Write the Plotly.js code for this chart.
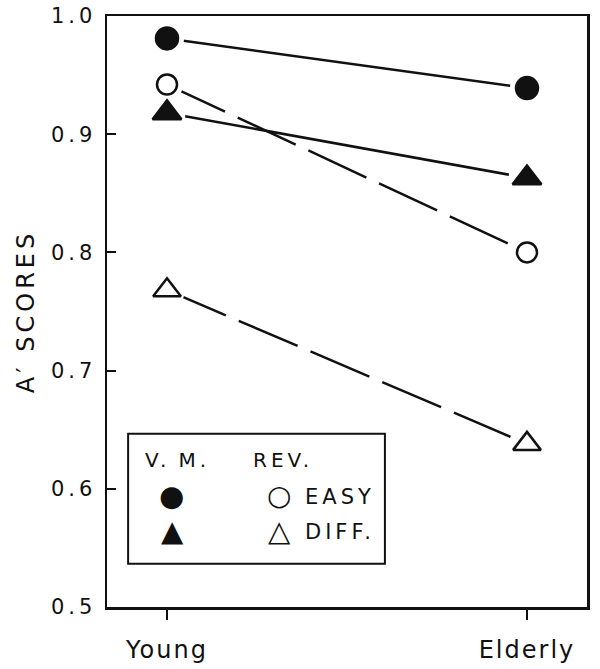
<!DOCTYPE html>
<html>
<head>
<meta charset="utf-8">
<script src="https://cdn.plot.ly/plotly-3.0.1.min.js"></script>
<style>
  html, body { margin: 0; padding: 0; background: #fff; }
  #chart { width: 600px; height: 669px; }
  /* the scanned figure uses widely spaced lettering */
  .xtick text { letter-spacing: 2px; }
  .ytick text { letter-spacing: 4px; }
  .g-ytitle text { letter-spacing: 4px; }
  .annotation-text { letter-spacing: 4px; }
</style>
</head>
<body>
<div id="chart"></div>
<script>
    // groups on the x axis
    const groups = ['Young', 'Elderly'];

    // A' scores
    const vmEasy = [0.981, 0.939];   // V.M. easy  (filled circle)
    const vmDiff = [0.918, 0.863];   // V.M. diff. (filled triangle)
    const revEasy = [0.942, 0.800];  // REV. easy  (open circle)
    const revDiff = [0.768, 0.638];  // REV. diff. (open triangle)

    const yTicks = [0.5, 0.6, 0.7, 0.8, 0.9, 1.0];

    const FONT = 'DejaVu Sans, Liberation Sans, sans-serif';
    const INK = '#111';

    // series definitions: solid = V.M., long dash = REV.
    const series = [
        { y: vmEasy, dash: 'solid', symbol: 'circle', size: 22, fill: INK },
        { y: vmDiff, dash: 'solid', symbol: 'triangle-up', size: 25, fill: INK },
        { y: revEasy, dash: '64px,14px', symbol: 'circle', size: 20, fill: '#fff' },
        { y: revDiff, dash: '64px,14px', symbol: 'triangle-up', size: 24, fill: '#fff' }
    ];

    const traces = [];

    // 1. connecting lines
    series.forEach(s => {
        traces.push({
            x: groups, y: s.y, type: 'scatter', mode: 'lines',
            line: { color: INK, width: 2.5, dash: s.dash },
            hoverinfo: 'skip', showlegend: false
        });
    });

    // 2. white halos so the lines stop short of the symbols
    series.forEach(s => {
        traces.push({
            x: groups, y: s.y, type: 'scatter', mode: 'markers',
            marker: { symbol: 'circle', size: s.size + 12, color: '#fff', line: { width: 0 } },
            hoverinfo: 'skip', showlegend: false
        });
    });

    // 3. the symbols
    series.forEach(s => {
        traces.push({
            x: groups, y: s.y, type: 'scatter', mode: 'markers',
            marker: { symbol: s.symbol, size: s.size, color: s.fill, line: { color: INK, width: 2.5 } },
            showlegend: false
        });
    });

    // legend box, drawn by hand like the original
    const legendText = (text, x, y, size, xanchor) => ({
        text: text, x: x, y: y, xref: 'paper', yref: 'paper',
        xanchor: xanchor || 'center', yanchor: 'middle', showarrow: false,
        font: { family: FONT, size: size, color: INK }
    });

    const annotations = [
        legendText('V.\u2009M.', 0.146, 0.249, 20),
        legendText('REV.', 0.300, 0.249, 20, 'left'),
        legendText('●', 0.138, 0.188, 29),
        legendText('▲', 0.140, 0.128, 29),
        legendText('○', 0.362, 0.188, 28),
        legendText('△', 0.362, 0.128, 29),
        legendText('EASY', 0.408, 0.186, 21, 'left'),
        legendText('DIFF.', 0.408, 0.127, 21, 'left')
    ];

    const shapes = [{
        type: 'rect', xref: 'paper', yref: 'paper',
        x0: 0.044, x1: 0.579, y0: 0.073, y1: 0.293,
        line: { color: INK, width: 2 }, fillcolor: 'rgba(0,0,0,0)'
    }];

    const layout = {
        width: 600, height: 669,
        margin: { l: 107, r: 13, t: 16, b: 62 },
        paper_bgcolor: '#fff', plot_bgcolor: '#fff',
        font: { family: FONT, color: INK },
        showlegend: false,
        xaxis: {
            type: 'category',
            range: [-0.1667, 1.1667],
            showgrid: false, zeroline: false,
            showline: true, mirror: true, linecolor: INK, linewidth: 2.5,
            ticks: 'outside', ticklen: 10, tickwidth: 2, tickcolor: INK,
            ticklabelstandoff: 10,
            tickfont: { family: FONT, size: 24, color: INK }
        },
        yaxis: {
            range: [0.5, 1.0],
            tickvals: yTicks,
            ticktext: yTicks.map(v => v.toFixed(1)),
            showgrid: false, zeroline: false,
            showline: true, mirror: true, linecolor: INK, linewidth: 2.5,
            ticks: 'inside', ticklen: 9, tickwidth: 2, tickcolor: INK,
            ticklabelstandoff: 4,
            tickfont: { family: FONT, size: 21, color: INK },
            title: { text: 'A′ SCORES', standoff: 10, font: { family: FONT, size: 24, color: INK } }
        },
        shapes: shapes,
        annotations: annotations
    };

    Plotly.newPlot('chart', traces, layout, { displayModeBar: false, staticPlot: true });
</script>
</body>
</html>
